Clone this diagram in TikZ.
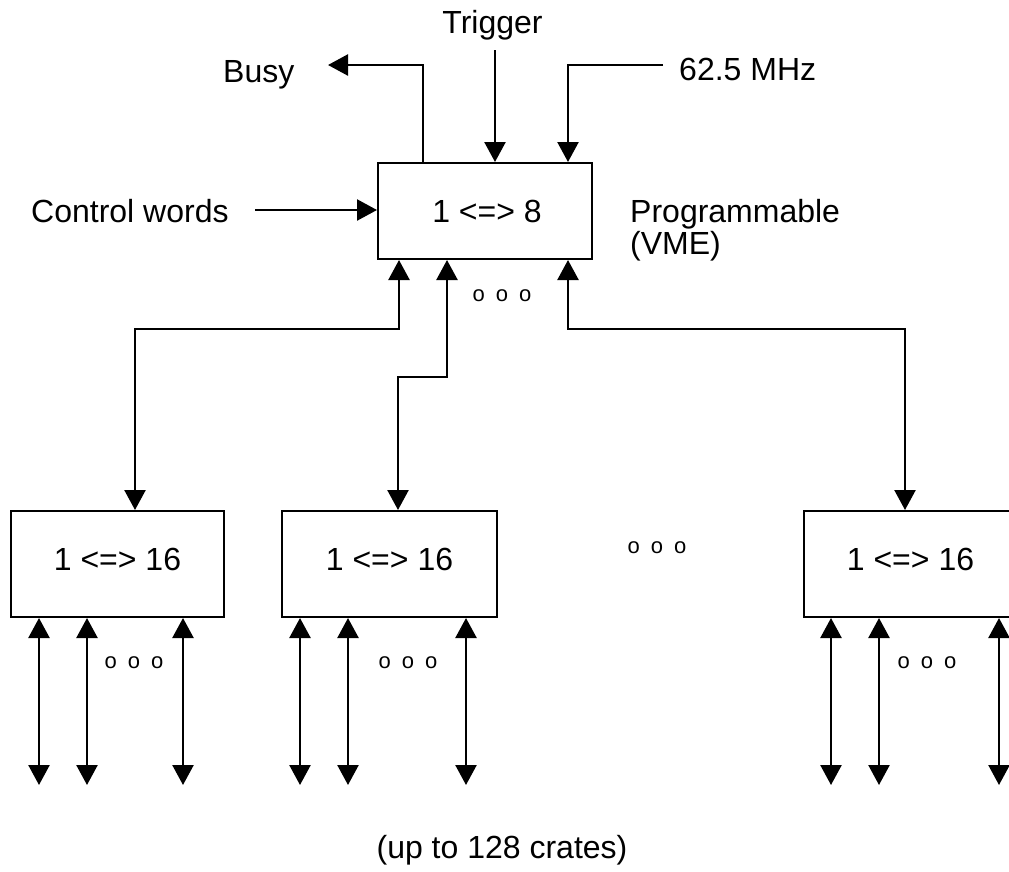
\documentclass[tikz,border=0pt]{standalone}
\usepackage{fontspec}
\setmainfont{Liberation Sans}
\usetikzlibrary{arrows.meta}
\newcommand{\threedots}{o\hspace{11pt}o\hspace{11pt}o}
\begin{document}
\begin{tikzpicture}[x=1pt,y=-1pt,
  lbl/.style={font=\fontsize{32}{38}\selectfont, inner sep=0pt},
  dots/.style={font=\fontsize{22}{26}\selectfont, inner sep=0pt},
  topbox/.style={draw, line width=2pt, minimum width=214pt, minimum height=96pt, inner sep=0pt},
  subbox/.style={draw, line width=2pt, minimum width=213pt, minimum height=106pt, inner sep=0pt},
  wire/.style={line width=2.4pt},
  >={Triangle[width=21pt,length=20pt]}]
\useasboundingbox (0,0) rectangle (1009,871);
\clip (0,0) rectangle (1009,871);

% boxes
\node[topbox] (top) at (485,211) {};
\node[lbl,anchor=base] (toplbl) at (487,222) {1 <=> 8};
\node[subbox] (b1) at (117.5,564) {};
\node[subbox,minimum width=215pt] (b2) at (389.5,564) {};
\node[subbox] (b3) at (910.5,564) {};
\node[lbl,anchor=base] (l1) at (117.5,570) {1 <=> 16};
\node[lbl,anchor=base] (l2) at (389.5,570) {1 <=> 16};
\node[lbl,anchor=base] (l3) at (910.5,570) {1 <=> 16};

% texts
\node[lbl,anchor=base] (trig) at (492.5,33) {Trigger};
\node[lbl,anchor=base west] (busy) at (223,82) {Busy};
\node[lbl,anchor=base west] (mhz) at (679,80) {62.5 MHz};
\node[lbl,anchor=base west] (ctrl) at (31,222) {Control words};
\node[lbl,anchor=base west] (prog) at (630,222) {Programmable};
\node[lbl,anchor=base west] (vme) at (630,254) {(VME)};
\node[lbl,anchor=base] (crates) at (502,858) {(up to 128 crates)};

% dots
\node[dots] (d0) at (502,296) {\threedots};
\node[dots] (dm) at (657,548) {\threedots};
\node[dots] (d1) at (134,663) {\threedots};
\node[dots] (d2) at (408,663) {\threedots};
\node[dots] (d3) at (927,663) {\threedots};

% top connectors
\coordinate (busyend) at (328,65);
\coordinate (busycorner) at (423,65);
\draw[wire,->] (top.north -| busycorner) -- (busycorner) -- (busyend);
\coordinate (trigstart) at (495,50);
\draw[wire,->] (trigstart) -- (top.north -| trigstart);
\coordinate (mhzstart) at (663,65);
\coordinate (mhzcorner) at (568,65);
\draw[wire,->] (mhzstart) -- (mhzcorner) -- (top.north -| mhzcorner);
\coordinate (ctrlstart) at (255,210);
\draw[wire,->] (ctrlstart) -- (top.west |- ctrlstart);

% buses
\coordinate (c1a) at (399,329); \coordinate (c1b) at (135,329);
\draw[wire,<->] (top.south -| c1a) -- (c1a) -- (c1b) -- (b1.north -| c1b);
\coordinate (c2a) at (447,377); \coordinate (c2b) at (398,377);
\draw[wire,<->] (top.south -| c2a) -- (c2a) -- (c2b) -- (b2.north -| c2b);
\coordinate (c3a) at (568,329); \coordinate (c3b) at (905,329);
\draw[wire,<->] (top.south -| c3a) -- (c3a) -- (c3b) -- (b3.north -| c3b);

% crate links
\foreach \x [count=\i] in {39,87,183} {
  \coordinate (ea\i) at (\x,785);
  \draw[wire,<->] (b1.south -| ea\i) -- (ea\i);
}
\foreach \x [count=\i] in {300,348,466} {
  \coordinate (eb\i) at (\x,785);
  \draw[wire,<->] (b2.south -| eb\i) -- (eb\i);
}
\foreach \x [count=\i] in {831,879,999} {
  \coordinate (ec\i) at (\x,785);
  \draw[wire,<->] (b3.south -| ec\i) -- (ec\i);
}
\end{tikzpicture}
\end{document}
